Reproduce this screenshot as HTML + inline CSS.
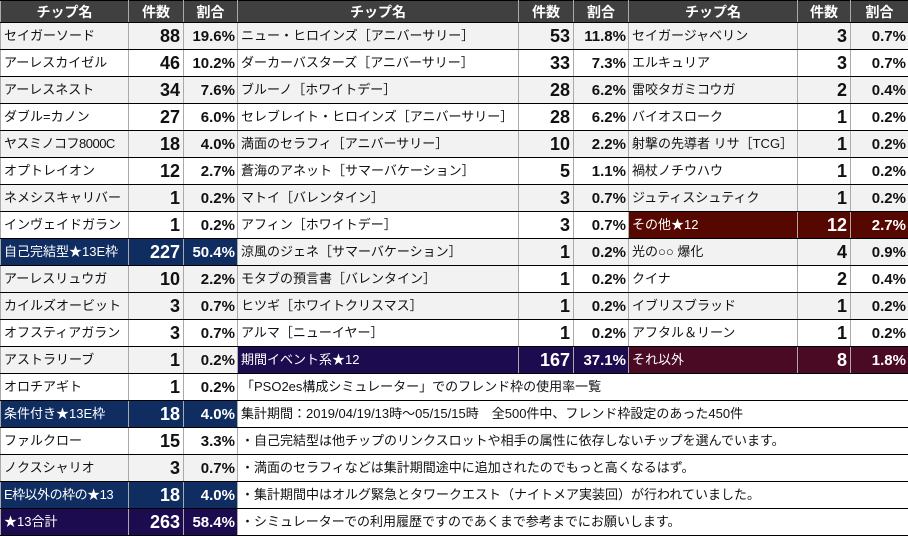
<!DOCTYPE html>
<html><head><meta charset="utf-8"><style>
body{margin:0;background:#fff;width:908px;height:535px;overflow:hidden}
table{border-collapse:collapse;table-layout:fixed;width:908px;font-family:"Liberation Sans","Noto Sans CJK JP",sans-serif;font-size:13px;color:#111}
td,th{border-top:1px solid #000;border-bottom:1px solid #000;border-left:1px solid #aaa;border-right:1px solid #aaa;padding:0 3px 2px 3px;height:24px;line-height:1;white-space:nowrap;overflow:hidden}
th{background:#404040;color:#fff;height:21px;font-size:14px;font-weight:bold;padding:0}
tr.o td{background:#f2f2f2}
td.n{text-align:right;font-weight:bold;font-size:18px;padding-bottom:0;height:26px}
td.p{text-align:right;font-weight:bold;font-size:15px;padding-right:2px;padding-bottom:0;height:26px}
.g{border-left:1px solid #000!important}
.nv{background:#0f2d61!important;color:#fff}
.pu{background:#1c0b4f!important;color:#fff}
.rd{background:#560800!important;color:#fff}
.rp{background:#4a0a24!important;color:#fff}
td.w{background:#fff!important;text-align:left;padding-left:3px}
table{border:1px solid #000}
</style></head><body>
<table>
<colgroup><col style="width:128px"><col style="width:55px"><col style="width:54px"><col style="width:281px"><col style="width:55px"><col style="width:55px"><col style="width:169px"><col style="width:53px"><col style="width:58px"></colgroup>
<tr><th>チップ名</th><th>件数</th><th>割合</th><th class="g">チップ名</th><th>件数</th><th>割合</th><th class="g">チップ名</th><th>件数</th><th>割合</th></tr>
<tr class="o"><td>セイガーソード</td><td class="n">88</td><td class="p">19.6%</td><td class="g">ニュー・ヒロインズ［アニバーサリー］</td><td class="n">53</td><td class="p">11.8%</td><td class="g">セイガージャベリン</td><td class="n">3</td><td class="p">0.7%</td></tr>
<tr><td>アーレスカイゼル</td><td class="n">46</td><td class="p">10.2%</td><td class="g">ダーカーバスターズ［アニバーサリー］</td><td class="n">33</td><td class="p">7.3%</td><td class="g">エルキュリア</td><td class="n">3</td><td class="p">0.7%</td></tr>
<tr class="o"><td>アーレスネスト</td><td class="n">34</td><td class="p">7.6%</td><td class="g">ブルーノ［ホワイトデー］</td><td class="n">28</td><td class="p">6.2%</td><td class="g">雷咬タガミコウガ</td><td class="n">2</td><td class="p">0.4%</td></tr>
<tr><td>ダブル=カノン</td><td class="n">27</td><td class="p">6.0%</td><td class="g">セレブレイト・ヒロインズ［アニバーサリー］</td><td class="n">28</td><td class="p">6.2%</td><td class="g">バイオスローク</td><td class="n">1</td><td class="p">0.2%</td></tr>
<tr class="o"><td style="letter-spacing:-0.5px">ヤスミノコフ8000C</td><td class="n">18</td><td class="p">4.0%</td><td class="g">満面のセラフィ［アニバーサリー］</td><td class="n">10</td><td class="p">2.2%</td><td class="g">射撃の先導者 リサ［TCG］</td><td class="n">1</td><td class="p">0.2%</td></tr>
<tr><td>オプトレイオン</td><td class="n">12</td><td class="p">2.7%</td><td class="g">蒼海のアネット［サマーバケーション］</td><td class="n">5</td><td class="p">1.1%</td><td class="g">禍杖ノチウハウ</td><td class="n">1</td><td class="p">0.2%</td></tr>
<tr class="o"><td>ネメシスキャリバー</td><td class="n">1</td><td class="p">0.2%</td><td class="g">マトイ［バレンタイン］</td><td class="n">3</td><td class="p">0.7%</td><td class="g">ジュティスシュティク</td><td class="n">1</td><td class="p">0.2%</td></tr>
<tr><td>インヴェイドガラン</td><td class="n">1</td><td class="p">0.2%</td><td class="g">アフィン［ホワイトデー］</td><td class="n">3</td><td class="p">0.7%</td><td class="g rd">その他★12</td><td class="n rd">12</td><td class="p rd">2.7%</td></tr>
<tr class="o"><td class="nv">自己完結型★13E枠</td><td class="n nv">227</td><td class="p nv">50.4%</td><td class="g">涼風のジェネ［サマーバケーション］</td><td class="n">1</td><td class="p">0.2%</td><td class="g">光の○○ 爆化</td><td class="n">4</td><td class="p">0.9%</td></tr>
<tr><td style="background:#f2f2f2">アーレスリュウガ</td><td class="n" style="background:#f2f2f2">10</td><td class="p" style="background:#f2f2f2">2.2%</td><td class="g" style="background:#f2f2f2">モタブの預言書［バレンタイン］</td><td class="n">1</td><td class="p">0.2%</td><td class="g">クイナ</td><td class="n">2</td><td class="p">0.4%</td></tr>
<tr class="o"><td>カイルズオービット</td><td class="n">3</td><td class="p">0.7%</td><td class="g">ヒツギ［ホワイトクリスマス］</td><td class="n">1</td><td class="p">0.2%</td><td class="g">イブリスブラッド</td><td class="n">1</td><td class="p">0.2%</td></tr>
<tr><td>オフスティアガラン</td><td class="n">3</td><td class="p">0.7%</td><td class="g">アルマ［ニューイヤー］</td><td class="n">1</td><td class="p">0.2%</td><td class="g">アフタル＆リーン</td><td class="n">1</td><td class="p">0.2%</td></tr>
<tr class="o"><td>アストラリーブ</td><td class="n">1</td><td class="p">0.2%</td><td class="g pu">期間イベント系★12</td><td class="n pu">167</td><td class="p pu">37.1%</td><td class="g rp">それ以外</td><td class="n rp">8</td><td class="p rp">1.8%</td></tr>
<tr><td>オロチアギト</td><td class="n">1</td><td class="p">0.2%</td><td class="g w" colspan="6">「PSO2es構成シミュレーター」でのフレンド枠の使用率一覧</td></tr>
<tr class="o"><td class="nv">条件付き★13E枠</td><td class="n nv">18</td><td class="p nv">4.0%</td><td class="g w" colspan="6">集計期間：2019/04/19/13時～05/15/15時　全500件中、フレンド枠設定のあった450件</td></tr>
<tr><td>ファルクロー</td><td class="n">15</td><td class="p">3.3%</td><td class="g w" colspan="6">・自己完結型は他チップのリンクスロットや相手の属性に依存しないチップを選んでいます。</td></tr>
<tr class="o"><td>ノクスシャリオ</td><td class="n">3</td><td class="p">0.7%</td><td class="g w" colspan="6">・満面のセラフィなどは集計期間途中に追加されたのでもっと高くなるはず。</td></tr>
<tr><td class="nv" style="letter-spacing:-0.5px">E枠以外の枠の★13</td><td class="n nv">18</td><td class="p nv">4.0%</td><td class="g w" colspan="6">・集計期間中はオルグ緊急とタワークエスト（ナイトメア実装回）が行われていました。</td></tr>
<tr class="o"><td class="pu">★13合計</td><td class="n pu">263</td><td class="p pu">58.4%</td><td class="g w" colspan="6">・シミュレーターでの利用履歴ですのであくまで参考までにお願いします。</td></tr>
</table>
</body></html>
